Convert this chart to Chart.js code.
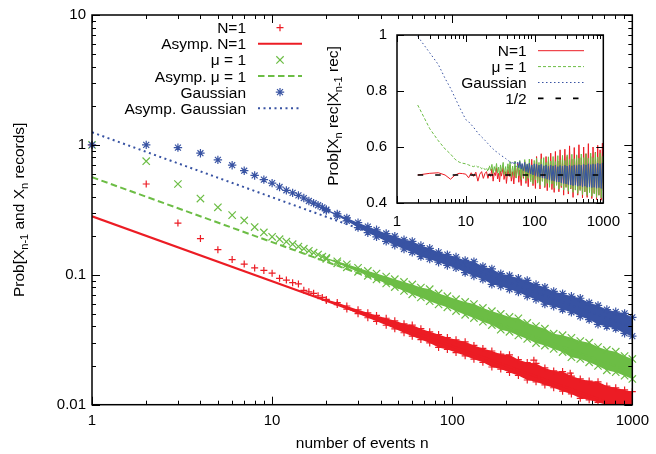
<!DOCTYPE html>
<html>
<head>
<meta charset="utf-8">
<script src="https://cdn.jsdelivr.net/npm/chart.js@4.4.1/dist/chart.umd.min.js"></script>
<style>
  body { margin: 0; background: #fff; }
  #wrap { position: relative; width: 656px; height: 454px; }
  #mainChart { position: absolute; left: 0; top: 0; }
  #insetChart { position: absolute; left: 320px; top: 0; }
</style>
</head>
<body>
<div id="wrap">
  <canvas id="mainChart" width="656" height="454"></canvas>
  <canvas id="insetChart" width="310" height="240"></canvas>
</div>
<script>
const FAMILY = "'Liberation Sans', Arial, Helvetica, sans-serif";
const TEXT_FONT = '15.5px ' + FAMILY;
const SUB_FONT = '11px ' + FAMILY;
const RED = '#ec1c24';
const GREEN = '#6cbd45';
const BLUE = '#3853a3';

// ---- main plot: Prob[X_{n-1} and X_n records] ----

// first events, each one visible as its own marker
const nSmall = [1, 2, 3, 4, 5, 6, 7, 8, 9, 10, 11, 12, 13, 14, 15, 16, 17, 18, 19];
const redSmall = [1, 0.5, 0.25, 0.19, 0.156, 0.131, 0.121, 0.113, 0.108, 0.103,
                  0.094, 0.091, 0.087, 0.085, 0.076, 0.074, 0.072, 0.069, 0.067];
const greenSmall = [1, 0.75, 0.5, 0.386, 0.331, 0.288, 0.262, 0.233, 0.212, 0.196,
                    0.188, 0.180, 0.172, 0.165, 0.159, 0.153, 0.148, 0.143, 0.138];
const blueSmall = [1, 1, 0.953, 0.863, 0.767, 0.698, 0.633, 0.582, 0.540, 0.508,
                   0.474, 0.447, 0.427, 0.409, 0.390, 0.370, 0.356, 0.343, 0.331];

// for n >= 20 the markers merge into a band: upper and lower edge of the cloud
const bandN = [20, 23, 26, 30, 34, 38, 43, 48, 54, 60, 67, 75, 84, 94, 105, 118, 132, 148,
               166, 186, 208, 233, 261, 292, 327, 366, 410, 459, 514, 576, 645, 722, 809, 906, 1000];
const blueHi = [0.318, 0.294, 0.274, 0.252, 0.235, 0.222, 0.208, 0.198, 0.186, 0.181, 0.168, 0.160,
                0.149, 0.143, 0.137, 0.129, 0.126, 0.116, 0.111, 0.102, 0.0989, 0.0941, 0.0905, 0.0841,
                0.0802, 0.0745, 0.0716, 0.0683, 0.0660, 0.0610, 0.0581, 0.0540, 0.0519, 0.0505, 0.0470];
const blueLo = [0.313, 0.284, 0.260, 0.231, 0.211, 0.196, 0.181, 0.169, 0.158, 0.149, 0.138, 0.132,
                0.125, 0.118, 0.113, 0.104, 0.098, 0.0924, 0.0845, 0.0817, 0.0773, 0.0735, 0.0684, 0.0646,
                0.0595, 0.0573, 0.0540, 0.0515, 0.0478, 0.0452, 0.0415, 0.0400, 0.0385, 0.0354, 0.0337];
const greenHi = [0.1349, 0.1269, 0.1204, 0.1131, 0.1072, 0.1022, 0.0970, 0.0926, 0.0881, 0.0843, 0.0798, 0.0775,
                 0.0719, 0.0685, 0.0649, 0.0618, 0.0595, 0.0556, 0.0525, 0.0500, 0.0474, 0.0462, 0.0426, 0.0403,
                 0.0385, 0.0352, 0.0343, 0.0327, 0.0309, 0.0300, 0.0278, 0.0264, 0.0256, 0.0237, 0.0225];
const greenLo = [0.1325, 0.1225, 0.1142, 0.1055, 0.0982, 0.0920, 0.0857, 0.0804, 0.0752, 0.0707, 0.0669, 0.0627,
                 0.0592, 0.0562, 0.0526, 0.0492, 0.0464, 0.0435, 0.0410, 0.0378, 0.0364, 0.0341, 0.0321, 0.0298,
                 0.0285, 0.0269, 0.0254, 0.0232, 0.0225, 0.0212, 0.0199, 0.0184, 0.0178, 0.0167, 0.0158];
const redHi = [0.0646, 0.0611, 0.0575, 0.0538, 0.0510, 0.0487, 0.0463, 0.0442, 0.0420, 0.0410, 0.0385, 0.0364,
               0.0347, 0.0329, 0.0316, 0.0305, 0.0286, 0.0271, 0.0259, 0.0245, 0.0242, 0.0222, 0.0211, 0.0208,
               0.0192, 0.0182, 0.0180, 0.0166, 0.0158, 0.0152, 0.0150, 0.0139, 0.0135, 0.0130, 0.0126];
const redLo = [0.0634, 0.0590, 0.0545, 0.0502, 0.0467, 0.0438, 0.0409, 0.0384, 0.0358, 0.0337, 0.0317, 0.0299,
               0.0276, 0.0266, 0.0252, 0.0238, 0.0224, 0.0212, 0.0195, 0.0188, 0.0177, 0.0168, 0.0155, 0.0150,
               0.0142, 0.0135, 0.0127, 0.0121, 0.0112, 0.0109, 0.0104, 0.0100, 0.0095, 0.0091, 0.0089];
// a few N=1 points that stick out above the band
const redOutN = [284, 452];
const redOutVal = [0.0220, 0.0175];

// asymptotic n^(-1/2) laws, straight on log-log axes
const asympN = [1, 1000];
const redAsymp = [0.282, 0.00892];
const greenAsymp = [0.564, 0.01784];
const blueAsymp = [1.25, 0.0395];

// ---- inset: Prob[X_n rec | X_{n-1} rec] ----
const insetN = [2, 3, 4, 5, 6, 7, 8, 9, 10, 11, 12, 13, 14, 15, 16, 17, 18, 19,
  20, 21, 22, 23, 24, 25, 26, 27, 28, 29, 30, 31, 32, 33,
  35, 36, 38, 39, 41, 43, 44, 46, 48, 50,
  52, 54, 57, 59, 61, 64, 66, 69, 72, 75,
  78, 81, 84, 88, 91, 95, 99, 103, 107, 111,
  116, 120, 125, 130, 136, 141, 147, 153, 159, 165,
  172, 179, 186, 193, 201, 209, 218, 226, 235, 245,
  255, 265, 276, 287, 298, 310, 323, 336, 349, 363,
  378, 393, 409, 425, 442, 460, 478, 498, 518, 538,
  560, 582, 606, 630, 655, 681, 709, 737, 767, 797,
  829, 862, 897, 933, 970, 1000];
const insetRed = [0.500, 0.506, 0.508, 0.500, 0.485, 0.500, 0.506, 0.505, 0.503, 0.490, 0.508, 0.495, 0.510, 0.478, 0.503, 0.512, 0.488, 0.505,
  0.512, 0.488, 0.505, 0.495, 0.522, 0.478, 0.508, 0.498, 0.526, 0.486, 0.506, 0.475, 0.515, 0.496,
  0.528, 0.484, 0.512, 0.470, 0.520, 0.495, 0.535, 0.478, 0.512, 0.468,
  0.530, 0.490, 0.542, 0.474, 0.518, 0.462, 0.536, 0.488, 0.548, 0.470,
  0.522, 0.458, 0.540, 0.482, 0.556, 0.462, 0.526, 0.452, 0.566, 0.476,
  0.535, 0.450, 0.576, 0.480, 0.532, 0.455, 0.566, 0.444, 0.548, 0.470,
  0.578, 0.448, 0.534, 0.438, 0.584, 0.464, 0.550, 0.440, 0.590, 0.455,
  0.560, 0.428, 0.592, 0.458, 0.566, 0.432, 0.604, 0.450, 0.556, 0.420,
  0.598, 0.446, 0.570, 0.428, 0.608, 0.448, 0.562, 0.418, 0.600, 0.440,
  0.576, 0.420, 0.612, 0.442, 0.566, 0.416, 0.600, 0.436, 0.582, 0.412,
  0.606, 0.428, 0.590, 0.410, 0.614, 0.444];
const insetGreen = [0.750, 0.665, 0.622, 0.593, 0.575, 0.556, 0.546, 0.542, 0.540, 0.536, 0.532, 0.530, 0.534, 0.528, 0.531, 0.522, 0.527, 0.519,
  0.526, 0.512, 0.533, 0.516, 0.538, 0.506, 0.530, 0.513, 0.541, 0.508, 0.528, 0.499, 0.536, 0.512,
  0.545, 0.502, 0.530, 0.495, 0.540, 0.505, 0.548, 0.492, 0.532, 0.498,
  0.550, 0.489, 0.535, 0.497, 0.552, 0.484, 0.538, 0.494, 0.555, 0.479,
  0.540, 0.488, 0.557, 0.476, 0.535, 0.469, 0.552, 0.483, 0.560, 0.471,
  0.545, 0.464, 0.558, 0.477, 0.562, 0.459, 0.545, 0.470, 0.565, 0.456,
  0.550, 0.468, 0.566, 0.453, 0.548, 0.463, 0.569, 0.450, 0.554, 0.460,
  0.570, 0.446, 0.552, 0.455, 0.572, 0.442, 0.556, 0.452, 0.574, 0.438,
  0.558, 0.447, 0.572, 0.434, 0.560, 0.444, 0.575, 0.430, 0.562, 0.440,
  0.576, 0.427, 0.560, 0.437, 0.578, 0.424, 0.562, 0.432, 0.580, 0.420,
  0.564, 0.428, 0.578, 0.418, 0.566, 0.450];
const insetBlue = [0.995, 0.936, 0.894, 0.845, 0.810, 0.775, 0.745, 0.720, 0.698, 0.690, 0.680, 0.670, 0.660, 0.650, 0.642, 0.636, 0.630, 0.624,
  0.618, 0.612, 0.607, 0.601, 0.597, 0.593, 0.589, 0.585, 0.583, 0.580, 0.577, 0.574, 0.571, 0.569,
  0.565, 0.562, 0.559, 0.556, 0.553, 0.549, 0.552, 0.541, 0.547, 0.536,
  0.550, 0.530, 0.546, 0.526, 0.548, 0.521, 0.541, 0.516, 0.545, 0.512,
  0.538, 0.508, 0.542, 0.504, 0.536, 0.500, 0.540, 0.498, 0.538, 0.495,
  0.535, 0.492, 0.538, 0.490, 0.533, 0.488, 0.536, 0.485, 0.531, 0.482,
  0.535, 0.480, 0.532, 0.478, 0.535, 0.476, 0.530, 0.475, 0.534, 0.472,
  0.532, 0.470, 0.535, 0.468, 0.532, 0.466, 0.535, 0.465, 0.533, 0.462,
  0.536, 0.464, 0.534, 0.460, 0.537, 0.462, 0.535, 0.458, 0.538, 0.460,
  0.536, 0.456, 0.540, 0.458, 0.537, 0.455, 0.540, 0.456, 0.538, 0.453,
  0.542, 0.455, 0.540, 0.452, 0.543, 0.470];
const halfN = [2, 1000];
const halfVal = [0.5, 0.5];

const mainYTitle = [['Prob[X', 0], ['n-1', 1], [' and X', 0], ['n', 1], [' records]', 0]];
const insetYTitle = [['Prob[X', 0], ['n', 1], [' rec|X', 0], ['n-1', 1], [' rec]', 0]];

function pts(xs, ys) {
  return xs.map((x, i) => ({x: x, y: ys[i]}));
}

function drawRich(ctx, parts, cx, y) {
  const widths = parts.map(p => {
    ctx.font = p[1] ? SUB_FONT : TEXT_FONT;
    return ctx.measureText(p[0]).width;
  });
  let x = cx - widths.reduce((s, w) => s + w, 0) / 2;
  ctx.textAlign = 'left';
  parts.forEach((p, i) => {
    ctx.font = p[1] ? SUB_FONT : TEXT_FONT;
    ctx.fillText(p[0], x, y + (p[1] ? 4 : 0));
    x += widths[i];
  });
}

function drawMarker(ctx, style, x, y, r) {
  ctx.beginPath();
  if (style === 'cross' || style === 'star') {
    ctx.moveTo(x - r, y); ctx.lineTo(x + r, y);
    ctx.moveTo(x, y - r); ctx.lineTo(x, y + r);
  }
  if (style === 'crossRot' || style === 'star') {
    const d = r * Math.SQRT1_2;
    ctx.moveTo(x - d, y - d); ctx.lineTo(x + d, y + d);
    ctx.moveTo(x - d, y + d); ctx.lineTo(x + d, y - d);
  }
  ctx.stroke();
}

// gnuplot style key: right aligned text, sample to its right
function drawKey(ctx, datasets, k) {
  const rows = datasets.filter(d => d.keyRow !== undefined);
  ctx.save();
  ctx.font = TEXT_FONT;
  ctx.textAlign = 'right';
  ctx.textBaseline = 'alphabetic';
  rows.forEach(d => {
    const y = k.y0 + k.step * d.keyRow;
    ctx.fillStyle = '#000';
    ctx.fillText(d.label, k.textRight, y + 5.5);
    if (d.showLine === false) {
      ctx.strokeStyle = d.pointBorderColor;
      ctx.lineWidth = d.pointBorderWidth;
      drawMarker(ctx, d.pointStyle, (k.x0 + k.x1) / 2, y, d.pointRadius);
    } else {
      ctx.strokeStyle = d.borderColor;
      ctx.lineWidth = d.borderWidth;
      ctx.setLineDash(d.borderDash || []);
      ctx.beginPath();
      ctx.moveTo(k.x0, y);
      ctx.lineTo(k.x1, y);
      ctx.stroke();
      ctx.setLineDash([]);
    }
  });
  ctx.restore();
}

function tickList(scale) {
  const out = [];
  if (scale.type === 'logarithmic') {
    for (let d = Math.pow(10, Math.floor(Math.log10(scale.min))); d <= scale.max; d *= 10) {
      for (let k = 1; k <= 9; k++) {
        const v = k * d;
        if (v >= scale.min * 0.999 && v <= scale.max * 1.001) out.push({v: v, major: k === 1});
      }
    }
  } else {
    scale.ticks.forEach(t => out.push({v: t.value, major: true}));
  }
  return out;
}

// box plus inward ticks on all four sides
function framePlugin(majorLen, minorLen) {
  return {
    id: 'frame',
    afterDatasetsDraw(chart) {
      const ctx = chart.ctx;
      const a = chart.chartArea;
      const sx = chart.scales.x, sy = chart.scales.y;
      ctx.save();
      ctx.strokeStyle = '#000';
      ctx.lineWidth = 1;
      ctx.beginPath();
      tickList(sx).forEach(t => {
        const p = Math.round(sx.getPixelForValue(t.v)) + 0.5;
        const l = t.major ? majorLen : minorLen;
        ctx.moveTo(p, a.bottom); ctx.lineTo(p, a.bottom - l);
        ctx.moveTo(p, a.top); ctx.lineTo(p, a.top + l);
      });
      tickList(sy).forEach(t => {
        const p = Math.round(sy.getPixelForValue(t.v)) + 0.5;
        const l = t.major ? majorLen : minorLen;
        ctx.moveTo(a.left, p); ctx.lineTo(a.left + l, p);
        ctx.moveTo(a.right, p); ctx.lineTo(a.right - l, p);
      });
      ctx.stroke();
      ctx.lineWidth = 1.5;
      ctx.strokeRect(a.left, a.top, a.right - a.left, a.bottom - a.top);
      ctx.restore();
    }
  };
}

function logAxis(min, max, ticks, fitSize, isX, pad) {
  return {
    type: 'logarithmic',
    min: min,
    max: max,
    grid: {display: false, drawTicks: false},
    border: {display: false},
    afterBuildTicks: s => { s.ticks = ticks.map(v => ({value: v})); },
    afterFit: s => { if (isX) s.height = fitSize; else s.width = fitSize; },
    ticks: {
      font: {family: FAMILY, size: 15}, color: '#000', padding: pad,
      autoSkip: false, maxRotation: 0, minRotation: 0,
      callback: v => String(v)
    }
  };
}

function pointSet(label, n, vals, color, style, r, order, keyRow) {
  return {
    label: label, data: pts(n, vals), showLine: false, order: order, keyRow: keyRow,
    pointStyle: style, pointRadius: r, pointBorderWidth: 1.2,
    pointBorderColor: color, pointBackgroundColor: color, clip: false
  };
}

function bandSet(n, vals, color, style, r, order, fillNext) {
  return {
    data: pts(n, vals), order: order, showLine: true,
    borderColor: 'rgba(0,0,0,0)', borderWidth: 1, backgroundColor: color,
    fill: fillNext ? '+1' : false,
    pointStyle: style, pointRadius: r, pointBorderWidth: 1.2,
    pointBorderColor: color, pointBackgroundColor: color,
    clip: {left: 6, top: 6, right: 6, bottom: 0}
  };
}

function asympSet(label, vals, color, dash, width, order, keyRow) {
  return {
    label: label, data: pts(asympN, vals), order: order, keyRow: keyRow,
    borderColor: color, borderWidth: width, borderDash: dash, pointRadius: 0, fill: false
  };
}

const mainDecor = {
  id: 'mainDecor',
  afterDraw(chart) {
    const ctx = chart.ctx;
    const a = chart.chartArea;
    ctx.save();
    ctx.fillStyle = '#000';
    ctx.font = TEXT_FONT;
    ctx.textAlign = 'center';
    ctx.fillText('number of events n', (a.left + a.right) / 2, 448);
    ctx.translate(24, (a.top + a.bottom) / 2);
    ctx.rotate(-Math.PI / 2);
    drawRich(ctx, mainYTitle, 0, 0);
    ctx.restore();
    drawKey(ctx, chart.data.datasets, {textRight: 246, x0: 258, x1: 302, y0: 27.7, step: 16.1});
  }
};

new Chart(document.getElementById('mainChart'), {
  type: 'line',
  data: {
    datasets: [
      asympSet('Asymp. Gaussian', blueAsymp, BLUE, [2, 3.5], 2, 0, 5),
      pointSet('Gaussian', nSmall, blueSmall, BLUE, 'star', 4.2, 1, 4),
      bandSet(bandN, blueHi, BLUE, 'star', 4.2, 1, true),
      bandSet(bandN, blueLo, BLUE, 'star', 4.2, 1, false),
      asympSet('Asymp. \u03bc = 1', greenAsymp, GREEN, [6.5, 3.5], 2, 2, 3),
      pointSet('\u03bc = 1', nSmall, greenSmall, GREEN, 'crossRot', 5.2, 3, 2),
      bandSet(bandN, greenHi, GREEN, 'crossRot', 5.2, 3, true),
      bandSet(bandN, greenLo, GREEN, 'crossRot', 5.2, 3, false),
      asympSet('Asymp. N=1', redAsymp, RED, [], 2, 4, 1),
      pointSet('N=1', nSmall, redSmall, RED, 'cross', 3.5, 5, 0),
      bandSet(bandN, redHi, RED, 'cross', 3.5, 5, true),
      bandSet(bandN, redLo, RED, 'cross', 3.5, 5, false),
      pointSet('', redOutN, redOutVal, RED, 'cross', 3.5, 5, undefined)
    ]
  },
  options: {
    responsive: false,
    animation: false,
    devicePixelRatio: 1,
    layout: {padding: {left: 0, top: 12.6, right: 20, bottom: 0}},
    plugins: {legend: {display: false}, tooltip: {enabled: false}},
    scales: {
      x: logAxis(1, 1000, [1, 10, 100, 1000], 49.3, true, 7),
      y: logAxis(0.01, 10, [0.01, 0.1, 1, 10], 92, false, 6)
    }
  },
  plugins: [framePlugin(8, 4), mainDecor]
});

const insetDecor = {
  id: 'insetDecor',
  beforeDraw(chart) {
    const a = chart.chartArea;
    chart.ctx.save();
    chart.ctx.fillStyle = '#fff';
    chart.ctx.fillRect(a.left, a.top, a.right - a.left, a.bottom - a.top);
    chart.ctx.restore();
  },
  afterDraw(chart) {
    const ctx = chart.ctx;
    ctx.save();
    ctx.fillStyle = '#000';
    ctx.translate(18, 116);
    ctx.rotate(-Math.PI / 2);
    drawRich(ctx, insetYTitle, 0, 0);
    ctx.restore();
    drawKey(ctx, chart.data.datasets, {textRight: 206.7, x0: 218, x1: 264, y0: 50.7, step: 15.9});
  }
};

function insetLine(label, vals, color, dash, solidFrom, order, keyRow) {
  return {
    label: label, data: pts(insetN, vals), order: order, keyRow: keyRow,
    borderColor: color, borderWidth: 1, borderDash: dash, borderJoinStyle: 'bevel',
    pointRadius: 0, fill: false,
    segment: {borderDash: c => (c.p0.parsed.x >= solidFrom ? [] : undefined)}
  };
}

new Chart(document.getElementById('insetChart'), {
  type: 'line',
  data: {
    datasets: [
      {
        label: '1/2', data: pts(halfN, halfVal), order: 0, keyRow: 3,
        borderColor: '#000', borderWidth: 1.6, borderDash: [5.5, 12], pointRadius: 0, fill: false
      },
      insetLine('Gaussian', insetBlue, BLUE, [1.5, 2.5], 55, 1, 2),
      insetLine('\u03bc = 1', insetGreen, GREEN, [3, 2], 22, 2, 1),
      insetLine('N=1', insetRed, RED, [], 1, 3, 0)
    ]
  },
  options: {
    responsive: false,
    animation: false,
    devicePixelRatio: 1,
    layout: {padding: {left: 0, top: 35, right: 26, bottom: 0}},
    plugins: {legend: {display: false}, tooltip: {enabled: false}},
    scales: {
      x: logAxis(1, 1000, [1, 10, 100, 1000], 37, true, 10),
      y: {
        type: 'linear', min: 0.4, max: 1,
        grid: {display: false, drawTicks: false},
        border: {display: false},
        afterFit: s => { s.width = 77; },
        ticks: {
          stepSize: 0.2, font: {family: FAMILY, size: 15}, color: '#000', padding: 10,
          callback: v => String(+v.toFixed(1))
        }
      }
    }
  },
  plugins: [framePlugin(7, 4), insetDecor]
});
</script>
</body>
</html>
